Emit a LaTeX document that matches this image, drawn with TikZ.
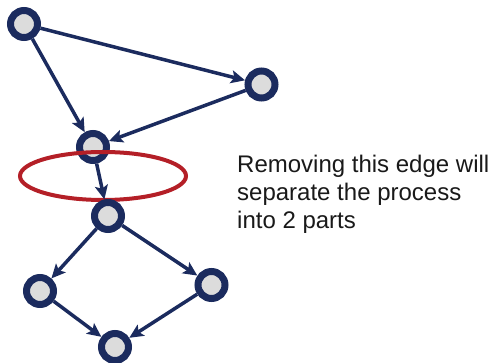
\documentclass[tikz,border=0pt]{standalone}
\usepackage{fontspec}
\setmainfont{Liberation Sans}
\usetikzlibrary{arrows.meta,positioning}
\definecolor{cnavy}{HTML}{1B2B5E}
\definecolor{cred}{HTML}{B41F27}
\definecolor{cgray}{HTML}{DCDCDC}

\begin{document}
\begin{tikzpicture}[x=1pt, y=-1pt,
      vert/.style={circle, draw=cnavy, fill=cgray, line width=7pt, minimum size=27pt, inner sep=0pt},
      arr/.style={-{Stealth[length=14pt, width=13pt, inset=3pt]}, line width=3.5pt, cnavy}
    ]
    \useasboundingbox (0,0) rectangle (495,363);
    \node[vert] (a) at (24,24) {};
    \node[vert] (b) at (261.5,84.5) {};
    \node[vert] (c) at (93,147) {};
    \draw[cred, line width=4pt] (103,176) ellipse [x radius=83, y radius=24];
    \node[vert] (d) at (108,216) {};
    \node[vert] (e) at (40,291) {};
    \node[vert] (f) at (211.5,285) {};
    \node[vert] (g) at (115,347) {};
    \draw[arr] (a) -- (b); \draw[arr] (a) -- (c);
    \draw[arr] (b) -- (c); \draw[arr] (c) -- (d);
    \draw[arr] (d) -- (e); \draw[arr] (d) -- (f);
    \draw[arr] (e) -- (g); \draw[arr] (f) -- (g);
    \node[anchor=north west, inner sep=0pt, align=left, text=black!90,
      font=\fontsize{24}{28}\selectfont] (note) at (237,154.5)
      {Removing this edge will\\separate the process\\into 2 parts};
  \end{tikzpicture}
\end{document}
